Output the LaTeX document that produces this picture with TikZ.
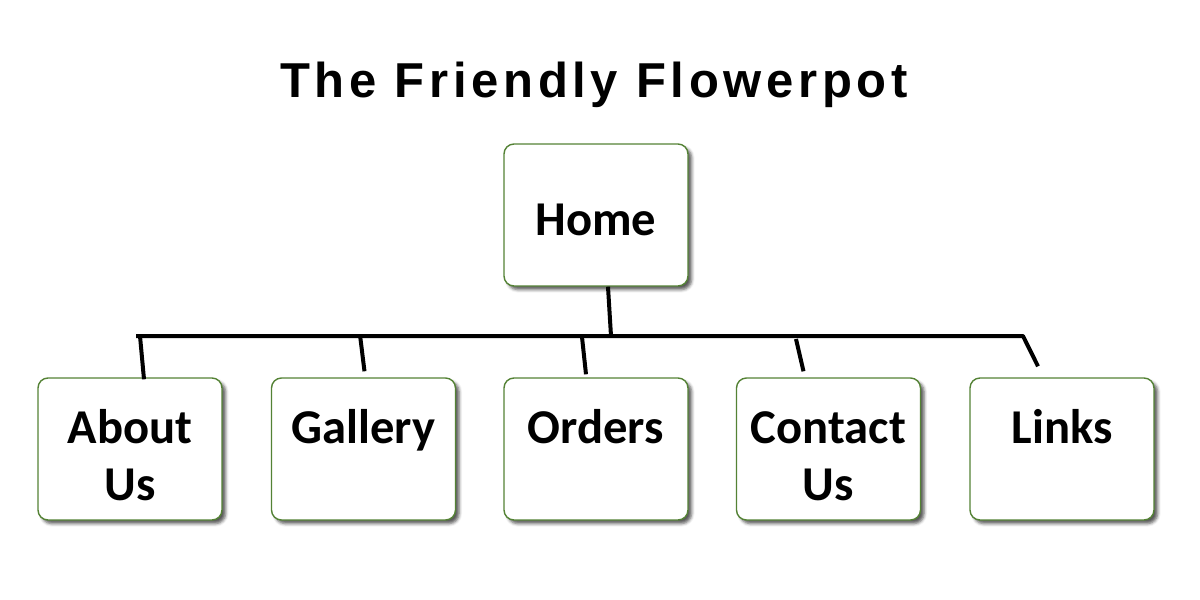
\documentclass[tikz,border=0pt]{standalone}
\usepackage{fontspec}
\usetikzlibrary{shadows.blur}
\newfontfamily\pagefont{Carlito}
\newfontfamily\titlefont{Liberation Sans}[LetterSpace=9.5]
\definecolor{myboxgreen}{RGB}{84,130,53}
\newcommand{\widthpage}{92pt}
\newcommand{\heightpage}{71pt}
\tikzset{
    page/.style={draw=myboxgreen, line width=0.7pt, fill=white, rounded corners=5pt,
        minimum width=\widthpage, minimum height=\heightpage, align=center,
        text height=51pt, text depth=0pt,
        font=\pagefont\bfseries\fontsize{24.3}{28.5}\selectfont,
        blur shadow={shadow xshift=1.8pt, shadow yshift=-1.8pt, shadow blur radius=1.5pt, shadow opacity=65}},
    toppage/.style={page, text height=20pt},
    title/.style={font=\titlefont\bfseries\fontsize{24.5}{29}\selectfont},
    wire/.style={line width=2pt, line join=round}
}

\begin{document}
\begin{tikzpicture}[x=0.5pt, y=-0.5pt]
    \useasboundingbox (0,0) rectangle (1200,600);
    \node[title] (site) at (594,85) {The Friendly Flowerpot};
    \node[toppage] (home) at (596,215) {Home};
    \node[page] (about) at (130,449) {About\\Us};
    \node[page] (gallery) at (363.5,449) {Gallery\\\phantom{Us}};
    \node[page] (orders) at (596,449) {Orders\\\phantom{Us}};
    \node[page] (contact) at (828.5,449) {Contact\\Us};
    \node[page] (links) at (1062,449) {Links\\\phantom{Us}};

    % points on the bar
    \coordinate (bar-left) at (136,336);
    \coordinate (bar-right) at (1023,336);
    \coordinate (bar-home) at (611,336);
    \coordinate (bar-about) at (140,336);
    \coordinate (bar-gallery) at (360,335);
    \coordinate (bar-orders) at (582,337);
    \coordinate (bar-contact) at (796,339);

    \draw[wire] ([shift={(12,0)}]home.south) -- (bar-home);
    \draw[wire] (bar-left) -- (bar-right) -- ([shift={(-24,-11)}]links.north);
    \draw[wire] (bar-about) -- ([shift={(14,2)}]about.north);
    \draw[wire] (bar-gallery) -- ([shift={(1,-6)}]gallery.north);
    \draw[wire] (bar-orders) -- ([shift={(-10,-3)}]orders.north);
    \draw[wire] (bar-contact) -- ([shift={(-25,-6)}]contact.north);
\end{tikzpicture}
\end{document}
